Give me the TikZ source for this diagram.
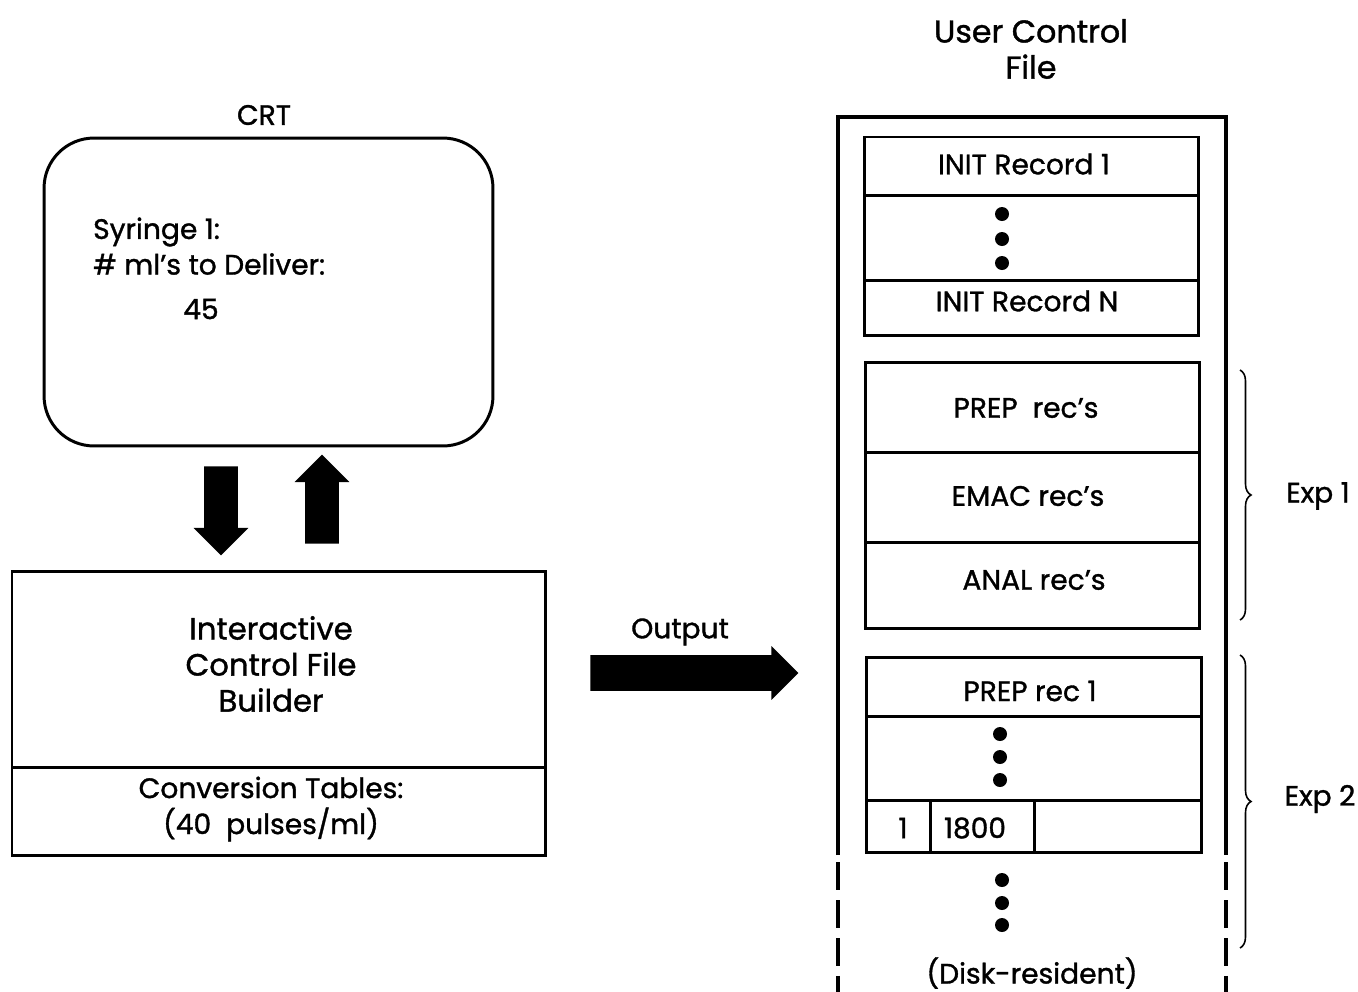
\documentclass[tikz,border=0pt]{standalone}
\usepackage{fontspec}
\setmainfont{Poppins}[FakeBold=1.2]
\usetikzlibrary{positioning,shapes.arrows,decorations.pathreplacing}

\begin{document}
\begin{tikzpicture}[x=0.02cm,y=-0.02cm,
   txt/.style={font=\fontsize{16}{20}\selectfont},
   big/.style={font=\fontsize{17.5}{20.5}\selectfont,align=center},
   rec/.style={line width=1.7pt},
   dot/.style={circle,fill,inner sep=0pt,minimum size=0.28cm},
   fatarrow/.style={single arrow,fill,draw=none,inner sep=0.33cm,
      single arrow head extend=0.21cm,minimum height=1.78cm,anchor=tail}]
  \useasboundingbox (0,0) rectangle (1358,991);

  \node[txt] (crtlbl) at (264,115) {CRT};                          % CRT title
  \node[draw,rec,rounded corners=1cm,minimum width=8.98cm,
        minimum height=6.16cm] (crt) at (268.5,292) {};            % Screen
  \node[txt,anchor=west] (syr) at (87,232) {Syringe 1:};           % Screen text
  \node[txt,anchor=west] (mls) at (87,264) {\# ml's to Deliver:};
  \node[txt] (val) at (201,309) {45};

  \node[fatarrow,rotate=-90] (down) at (221,466) {};               % Arrow to builder
  \node[fatarrow,rotate=90] (up) at (322,544) {};                  % Arrow to CRT

  \draw[rec] (12,571) rectangle (545,855);                         % Builder box
  \draw[rec] (12,767) -- (545,767);                                % Table divider
  \node[big] (icfb) at (271,664) {Interactive\\Control File\\Builder};
  \node[txt,align=center,font=\fontsize{16}{20.5}\selectfont]
       (conv) at (271,809) {Conversion Tables:\\(40~~pulses/ml)};

  \node[txt] (outlbl) at (680,632) {Output};                       % Output label
  \node[fatarrow,inner sep=0.35cm,single arrow head extend=0.18cm,
        minimum height=4.16cm] (out) at (590,673) {};              % Output arrow

  \node[align=center,font=\fontsize{18}{20.5}\selectfont]
       (ucf) at (1031,49) {User Control\\File};                    % File title
  \draw[line width=2.8pt] (838,855) -- (838,117) -- (1226,117) -- (1226,855); % File outline
  \draw[line width=2.8pt,dash pattern=on 0.56cm off 0.2cm] (838,862) -- (838,1000);
  \draw[line width=2.8pt,dash pattern=on 0.56cm off 0.2cm] (1226,862) -- (1226,1000);

  \draw[rec] (864,137) rectangle (1198,335);                       % INIT records
  \draw[rec] (864,195) -- (1198,195);
  \draw[rec] (864,280) -- (1198,280);
  \node[txt] (init1) at (1024,164) {INIT Record 1};
  \node[dot] (d1) at (1002,214) {};
  \node[dot] (d2) at (1002,239) {};
  \node[dot] (d3) at (1002,263) {};
  \node[txt] (initn) at (1027,301) {INIT Record N};

  \draw[rec] (865,362) rectangle (1199,628);                       % Exp 1 records
  \draw[rec] (865,452) -- (1199,452);
  \draw[rec] (865,542) -- (1199,542);
  \node[txt] (prep) at (1026,408) {PREP~~rec's};
  \node[txt] (emac) at (1028,496) {EMAC rec's};
  \node[txt] (anal) at (1034,580) {ANAL rec's};

  \draw[rec] (866,657) rectangle (1201,852);                       % Exp 2 records
  \draw[rec] (866,716) -- (1201,716);
  \draw[rec] (866,800) -- (1201,800);
  \draw[rec] (930,800) -- (930,852);
  \draw[rec] (1034,800) -- (1034,852);
  \node[txt] (prep1) at (1030,691) {PREP rec 1};
  \node[dot] (d4) at (1000,734) {};
  \node[dot] (d5) at (1000,757) {};
  \node[dot] (d6) at (1000,780) {};
  \node[txt] (one) at (903,828) {1};
  \node[txt] (secs) at (975,828) {1800};

  \node[dot] (d7) at (1002,880) {};                                % More records
  \node[dot] (d8) at (1002,903) {};
  \node[dot] (d9) at (1002,925) {};
  \node[txt] (disk) at (1032,973) {(Disk-resident)};

  \draw[line width=0.9pt,decorate,decoration={brace,amplitude=0.22cm}]
       (1240,370) -- (1240,620);                                   % Exp 1 brace
  \node[txt] (exp1) at (1318,496) {Exp 1};
  \draw[line width=0.9pt,decorate,decoration={brace,amplitude=0.22cm}]
       (1240,655) -- (1240,948);                                   % Exp 2 brace
  \node[txt] (exp2) at (1320,799) {Exp 2};
\end{tikzpicture}
\end{document}
